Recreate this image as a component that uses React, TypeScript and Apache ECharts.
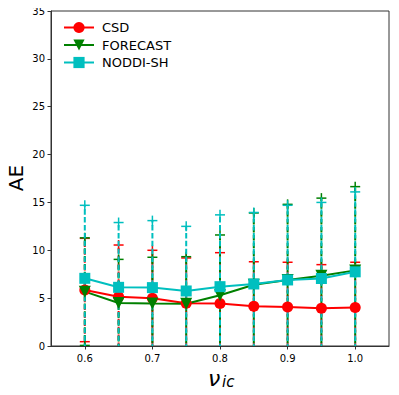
import React, { useEffect, useRef } from "react";
import * as echarts from "echarts";

const xs = [0.6, 0.65, 0.7, 0.75, 0.8, 0.85, 0.9, 0.95, 1.0];
const xTicks = [0.6, 0.7, 0.8, 0.9, 1.0];
const csdMean = [5.85, 5.15, 4.98, 4.46, 4.45, 4.15, 4.07, 3.95, 4.02];
const csdStd = [5.4, 5.4, 5.02, 4.74, 5.3, 4.65, 4.68, 4.55, 4.73];
const forecastMean = [5.68, 4.5, 4.45, 4.42, 5.3, 6.4, 6.9, 7.35, 7.9];
const forecastStd = [5.62, 4.55, 4.82, 4.91, 6.3, 7.5, 7.9, 8.1, 8.75];
const noddiMean = [7.07, 6.13, 6.1, 5.75, 6.2, 6.48, 6.9, 7.05, 7.75];
const noddiStd = [7.63, 6.77, 7.0, 6.75, 7.5, 7.47, 7.8, 7.95, 8.35];

const FONT = "DejaVu Sans";

function errSeries(name: string, color: string, mean: number[], std: number[], offset: number) {
  return {
    type: "custom",
    name: name + "_err",
    z: 1,
    clip: true,
    silent: true,
    data: xs.map((x, i) => [x, mean[i] - std[i], mean[i] + std[i]]),
    renderItem: (params: any, api: any) => {
      const x = api.value(0);
      const lo = api.value(1);
      const hi = api.value(2);
      const pHi = api.coord([x, hi]);
      const pLo = api.coord([x, lo]);
      const p0 = api.coord([x, 0]);
      const yB = Math.min(pLo[1], p0[1] + 2);
      const cap = 5;
      const children: any[] = [
        {
          type: "line",
          shape: { x1: pHi[0], y1: yB, x2: pHi[0], y2: pHi[1] },
          style: { stroke: color, lineWidth: 2, lineDash: [5.5, 2.4], lineDashOffset: offset },
        },
        { type: "line", shape: { x1: pHi[0] - cap, y1: pHi[1], x2: pHi[0] + cap, y2: pHi[1] }, style: { stroke: color, lineWidth: 1.5 } },
        { type: "line", shape: { x1: pHi[0], y1: pHi[1] - cap, x2: pHi[0], y2: pHi[1] + cap }, style: { stroke: color, lineWidth: 1.5 } },
      ];
      if (lo >= 0) {
        children.push(
          { type: "line", shape: { x1: pLo[0] - cap, y1: pLo[1], x2: pLo[0] + cap, y2: pLo[1] }, style: { stroke: color, lineWidth: 1.5 } },
          { type: "line", shape: { x1: pLo[0], y1: pLo[1] - cap, x2: pLo[0], y2: pLo[1] + cap }, style: { stroke: color, lineWidth: 1.5 } }
        );
      }
      return { type: "group", children };
    },
  };
}

function lineSeries(name: string, color: string, mean: number[], symbol: string, size: number, rotate = 0) {
  return {
    type: "line",
    name,
    z: 3,
    data: xs.map((x, i) => [x, mean[i]]),
    symbol,
    symbolSize: size,
    symbolRotate: rotate,
    showAllSymbol: true,
    lineStyle: { color, width: 2 },
    itemStyle: { color, borderWidth: 0 },
  };
}

export default function App() {
  const ref = useRef<HTMLDivElement>(null);
  useEffect(() => {
    if (!ref.current) return;
    const chart = echarts.init(ref.current, null, { renderer: "svg" });
    const axisColor = "#333";
    chart.setOption({
      animation: false,
      backgroundColor: "#fff",
      grid: { left: 51, right: 10, top: 11, bottom: 49, show: true, borderColor: axisColor, borderWidth: 1 },
      legend: {
        orient: "vertical",
        left: 58,
        top: 16,
        itemWidth: 30,
        itemHeight: 14,
        itemGap: 4.5,
        data: ["CSD", "FORECAST", "NODDI-SH"],
        textStyle: { fontFamily: FONT, fontSize: 13, color: "#000", padding: [0, 0, 0, 3] },
      },
      xAxis: {
        type: "value",
        min: 0.55,
        max: 1.05,
        splitLine: { show: false },
        axisLine: { onZero: false, lineStyle: { color: axisColor, width: 1 } },
        axisTick: { customValues: xTicks, length: 3.5, lineStyle: { color: axisColor } },
        axisLabel: {
          customValues: xTicks,
          formatter: (v: number) => v.toFixed(1),
          fontFamily: FONT,
          fontSize: 10,
          color: "#000",
          margin: 7,
        },
      },
      yAxis: {
        type: "value",
        min: 0,
        max: 35,
        interval: 5,
        splitLine: { show: false },
        axisLine: { show: true, lineStyle: { color: axisColor, width: 1 } },
        axisTick: { show: true, length: 3.5, lineStyle: { color: axisColor } },
        axisLabel: { fontFamily: FONT, fontSize: 10, color: "#000", margin: 6 },
      },
      graphic: [
        {
          type: "text",
          x: 16,
          y: 178,
          rotation: Math.PI / 2,
          style: { text: "AE", font: `20px ${FONT}`, fill: "#000", align: "center", verticalAlign: "middle" },
        },
        {
          type: "text",
          x: 208,
          y: 378,
          style: { text: "ν", font: `italic 22px ${FONT}`, fill: "#000", align: "left", verticalAlign: "middle" },
        },
        {
          type: "text",
          x: 222,
          y: 382,
          style: { text: "ic", font: `italic 15px ${FONT}`, fill: "#000", align: "left", verticalAlign: "middle" },
        },
      ],
      series: [
        errSeries("CSD", "#ff0000", csdMean, csdStd, 0),
        errSeries("FORECAST", "#008000", forecastMean, forecastStd, 3),
        errSeries("NODDI-SH", "#00bfbf", noddiMean, noddiStd, 1),
        lineSeries("CSD", "#ff0000", csdMean, "circle", 11),
        lineSeries("FORECAST", "#008000", forecastMean, "triangle", 12, 180),
        lineSeries("NODDI-SH", "#00bfbf", noddiMean, "rect", 11),
      ],
    });
    return () => chart.dispose();
  }, []);
  return <div ref={ref} style={{ width: 399, height: 395, margin: -8 }} />;
}
